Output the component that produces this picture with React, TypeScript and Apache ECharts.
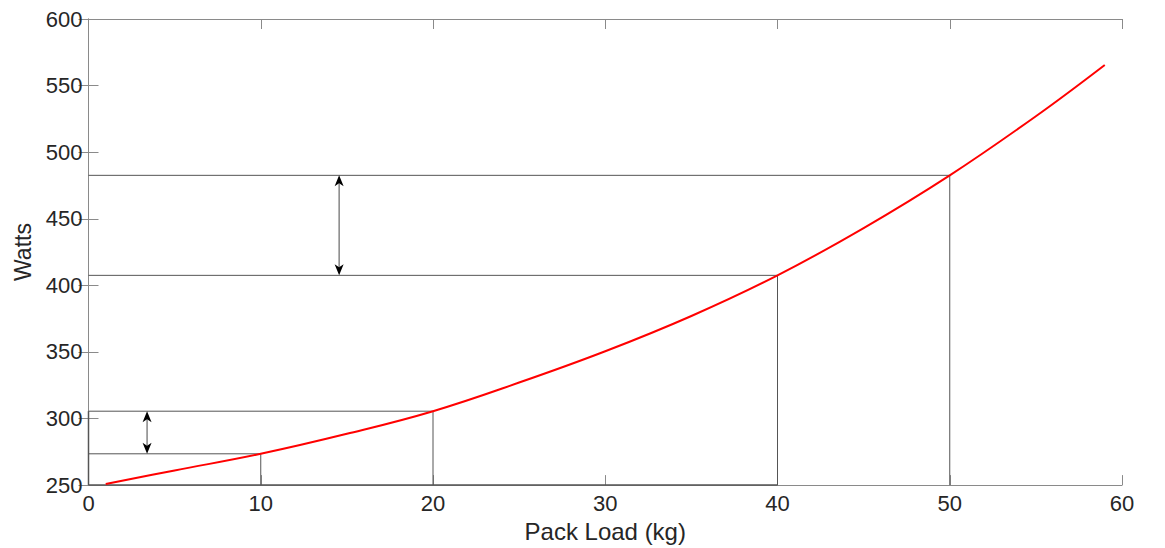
import React, { useEffect, useRef } from "react";
import * as echarts from "echarts";

// Curve: pack load (kg) vs power (W)
const loadKg = [1, 5, 10, 15, 20, 25, 30, 35, 40, 45, 50, 55, 59];
const watts = [250.8, 261, 273.5, 288.5, 305.5, 327, 350.5, 377, 407.5, 443, 482.6, 527, 565.5];

// Reference boxes
const refLoads = [10, 20, 40, 50];
const refWatts = [273.5, 305.5, 407.5, 482.6];

// Double arrows: [x, lower, upper]
const arrows = [
  [3.4, 273.5, 305.5],
  [14.55, 407.5, 482.6],
];

const xTicks = { min: 0, max: 60, interval: 10 };
const yTicks = { min: 250, max: 600, interval: 50 };

const AXIS = "#8a8a8a";
const TEXT = "#262626";
const REF = "#555555";
const FONT = "'Liberation Sans', Arial, Helvetica, sans-serif";

export default function App() {
  const ref = useRef<HTMLDivElement>(null);
  useEffect(() => {
    if (!ref.current) return;
    const chart = echarts.init(ref.current, undefined, { renderer: "svg" });

    const refSeries = refLoads.map((x, i) => ({
      type: "line",
      data: [
        [xTicks.min, refWatts[i]],
        [x, refWatts[i]],
        [x, yTicks.min],
      ],
      symbol: "none",
      clip: false,
      lineStyle: { color: REF, width: 1 },
      silent: true,
      z: 2,
    }));

    const baseSeries = [
      {
        type: "line",
        data: [
          [xTicks.min, yTicks.min],
          [refLoads[2], yTicks.min],
        ],
        symbol: "none",
        clip: false,
        lineStyle: { color: REF, width: 1.5 },
        z: 2,
      },
      {
        type: "line",
        data: [
          [xTicks.min, yTicks.min],
          [xTicks.min, refWatts[1]],
        ],
        symbol: "none",
        clip: false,
        lineStyle: { color: REF, width: 1.5 },
        z: 2,
      },
    ];

    const arrowSeries = {
      type: "custom",
      data: arrows,
      clip: false,
      z: 3,
      renderItem: (params: any, api: any) => {
        const x = api.value(0);
        const lo = api.coord([x, api.value(1)]);
        const hi = api.coord([x, api.value(2)]);
        const L = 11;
        const W = 4.5;
        const N = 3;
        return {
          type: "group",
          children: [
            {
              type: "line",
              shape: { x1: lo[0], y1: lo[1] - L + N, x2: hi[0], y2: hi[1] + L - N },
              style: { stroke: "#666", lineWidth: 1.2 },
            },
            {
              type: "polygon",
              shape: {
                points: [
                  [hi[0], hi[1]],
                  [hi[0] - W, hi[1] + L],
                  [hi[0], hi[1] + L - N],
                  [hi[0] + W, hi[1] + L],
                ],
              },
              style: { fill: "#000" },
            },
            {
              type: "polygon",
              shape: {
                points: [
                  [lo[0], lo[1]],
                  [lo[0] - W, lo[1] - L],
                  [lo[0], lo[1] - L + N],
                  [lo[0] + W, lo[1] - L],
                ],
              },
              style: { fill: "#000" },
            },
          ],
        };
      },
    };

    const axisBase = {
      axisLine: { show: true, lineStyle: { color: AXIS, width: 1 } },
      axisTick: { show: true, inside: true, length: 10, lineStyle: { color: AXIS } },
      splitLine: { show: false },
    };

    chart.setOption({
      animation: false,
      textStyle: { fontFamily: FONT },
      grid: { left: 88.5, right: 43, top: 19, bottom: 62, containLabel: false },
      xAxis: [
        {
          type: "value",
          position: "bottom",
          ...xTicks,
          ...axisBase,
          axisLabel: { color: TEXT, fontSize: 22, margin: 7, fontFamily: FONT },
          name: "Pack Load (kg)",
          nameLocation: "middle",
          nameGap: 26,
          nameTextStyle: { color: TEXT, fontSize: 24, fontFamily: FONT },
        },
        {
          type: "value",
          position: "top",
          ...xTicks,
          ...axisBase,
          axisLabel: { show: false },
        },
      ],
      yAxis: [
        {
          type: "value",
          position: "left",
          ...yTicks,
          ...axisBase,
          axisLabel: { color: TEXT, fontSize: 22, margin: 6, fontFamily: FONT },
          name: "Watts",
          nameLocation: "middle",
          nameGap: 32,
          nameTextStyle: { color: TEXT, fontSize: 23, fontFamily: FONT },
        },
        {
          type: "value",
          position: "right",
          ...yTicks,
          ...axisBase,
          axisLabel: { show: false },
        },
      ],
      series: [
        ...refSeries,
        ...baseSeries,
        arrowSeries,
        {
          type: "line",
          data: loadKg.map((x, i) => [x, watts[i]]),
          smooth: 0.4,
          symbol: "none",
          lineStyle: { color: "#ff0000", width: 2 },
          z: 5,
        },
      ],
    });
    return () => chart.dispose();
  }, []);
  return (
    <div
      ref={ref}
      style={{ position: "absolute", left: 0, top: 0, width: 1165, height: 548, background: "#fff" }}
    />
  );
}
